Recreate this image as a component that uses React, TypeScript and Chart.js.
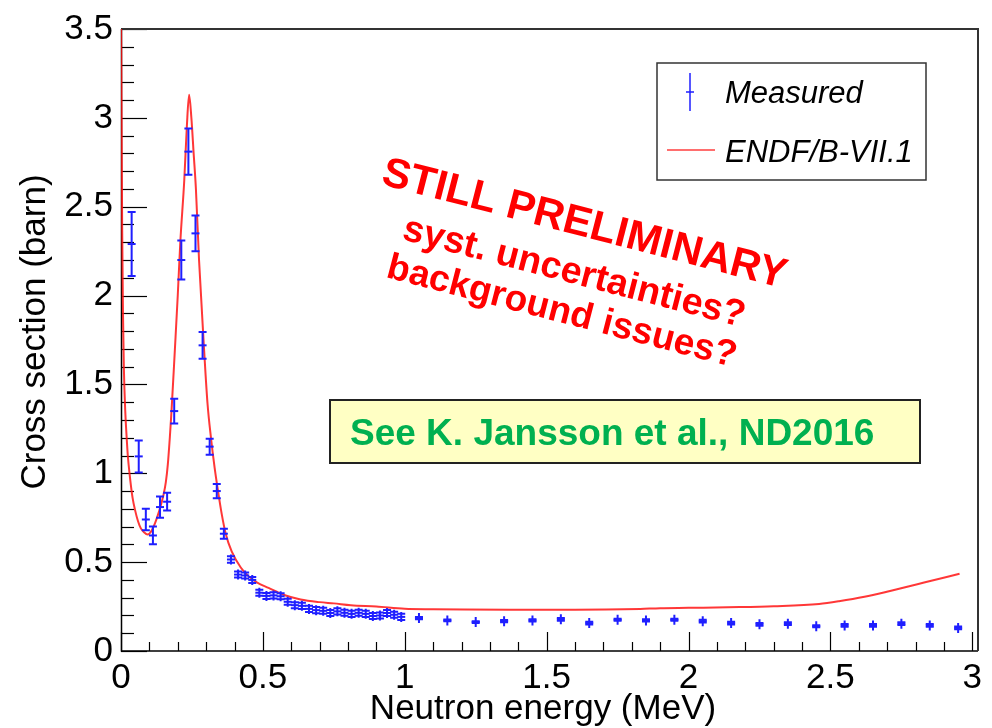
import React, { useEffect, useRef } from 'react';
import { Chart, registerables } from 'chart.js';

Chart.register(...registerables);

// ---------- data ----------
const measEnergy = [
  0.0375, 0.0625, 0.0875, 0.1125, 0.1375, 0.1625, 0.1875, 0.2125, 0.2375, 0.2625,
  0.2875, 0.3125, 0.3375, 0.3625, 0.3875, 0.4125, 0.4375, 0.4625, 0.4875, 0.5125,
  0.5375, 0.5625, 0.5875, 0.6125, 0.6375, 0.6625, 0.6875, 0.7125, 0.7375, 0.7625,
  0.7875, 0.8125, 0.8375, 0.8625, 0.8875, 0.9125, 0.9375, 0.9625, 0.9875,
  1.05, 1.15, 1.25, 1.35, 1.45, 1.55, 1.65, 1.75, 1.85, 1.95,
  2.05, 2.15, 2.25, 2.35, 2.45, 2.55, 2.65, 2.75, 2.85, 2.95,
];
const measValue = [
  2.29, 1.095, 0.74, 0.65, 0.81, 0.84, 1.35, 2.2, 2.81, 2.35,
  1.72, 1.15, 0.9, 0.66, 0.515, 0.43, 0.425, 0.4, 0.328, 0.31,
  0.313, 0.308, 0.277, 0.258, 0.254, 0.237, 0.23, 0.226, 0.214, 0.223,
  0.215, 0.209, 0.215, 0.209, 0.197, 0.2, 0.214, 0.204, 0.192,
  0.185, 0.172, 0.163, 0.168, 0.172, 0.178, 0.157, 0.176, 0.172, 0.176,
  0.168, 0.157, 0.15, 0.154, 0.139, 0.144, 0.144, 0.154, 0.144, 0.13,
];
const measError = [
  0.18, 0.09, 0.06, 0.05, 0.06, 0.05, 0.07, 0.11, 0.13, 0.1,
  0.075, 0.045, 0.04, 0.028, 0.018, 0.017, 0.017, 0.017, 0.017, 0.017,
  0.017, 0.017, 0.017, 0.017, 0.017, 0.017, 0.017, 0.017, 0.017, 0.017,
  0.017, 0.017, 0.017, 0.017, 0.017, 0.017, 0.017, 0.017, 0.017,
  0.006, 0.005, 0.005, 0.006, 0.006, 0.008, 0.008, 0.006, 0.006, 0.006,
  0.008, 0.008, 0.008, 0.008, 0.006, 0.008, 0.008, 0.008, 0.008, 0.008,
];

const endfEnergy = [
  0, 0.002, 0.004, 0.007, 0.01, 0.015, 0.02, 0.024, 0.03, 0.041,
  0.05, 0.06, 0.07, 0.08, 0.094, 0.105, 0.12, 0.135, 0.15, 0.158,
  0.165, 0.172, 0.178, 0.19, 0.2, 0.209, 0.223, 0.232, 0.24, 0.248,
  0.256, 0.264, 0.275, 0.293, 0.305, 0.317, 0.33, 0.34, 0.355, 0.369,
  0.39, 0.422, 0.45, 0.48, 0.52, 0.575, 0.633, 0.7, 0.75, 0.81,
  0.9, 1.0, 1.1, 1.21, 1.4, 1.6, 1.71, 1.83, 1.9, 2.0,
  2.18, 2.3, 2.46, 2.53, 2.62, 2.71, 2.83, 2.955,
];
const endfValue = [
  3.6, 3.0, 2.4, 1.9, 1.6, 1.35, 1.2, 1.1, 1.0, 0.86,
  0.79, 0.73, 0.69, 0.67, 0.655, 0.67, 0.72, 0.79, 0.88, 0.95,
  1.05, 1.2, 1.35, 1.7, 2.0, 2.3, 2.65, 2.95, 3.13, 3.0,
  2.8, 2.6, 2.2, 1.69, 1.39, 1.2, 1.03, 0.92, 0.77, 0.66,
  0.56, 0.47, 0.42, 0.385, 0.355, 0.315, 0.29, 0.275, 0.268, 0.258,
  0.25, 0.238, 0.235, 0.233, 0.232, 0.232, 0.233, 0.237, 0.241, 0.243,
  0.247, 0.252, 0.265, 0.28, 0.305, 0.338, 0.385, 0.435,
];

const xTickValues = [0, 0.5, 1, 1.5, 2, 2.5, 3];
const yTickValues = [0, 0.5, 1, 1.5, 2, 2.5, 3, 3.5];
const xMinorStep = 0.1;
const yMinorStep = 0.1;

const seriesNames = ['Measured', 'ENDF/B-VII.1'];
const xTitle = 'Neutron energy (MeV)';
const yTitle = 'Cross section (barn)';
const stampLines = ['STILL PRELIMINARY', 'syst. uncertainties?', 'background issues?'];
const noteText = 'See K. Jansson et al., ND2016';

// ---------- style ----------
const FONT = '"Liberation Sans", Arial, Helvetica, sans-serif';
const BLUE = '#1f1fff';
const RED = 'rgba(255,20,20,0.85)';

const rootPlugin = {
  id: 'rootStyle',
  beforeDatasetsDraw(chart: any) {
    const { ctx, chartArea: a, scales } = chart;
    const xs = scales.x;
    const ys = scales.y;
    ctx.save();
    ctx.strokeStyle = '#000';
    ctx.lineWidth = 1.2;
    for (let v = 0; v <= 3.5 + 1e-9; v += yMinorStep) {
      const vv = Math.round(v * 10) / 10;
      const major = Math.abs(vv * 2 - Math.round(vv * 2)) < 1e-6;
      const y = Math.round(ys.getPixelForValue(vv)) + 0.5;
      ctx.beginPath();
      ctx.moveTo(a.left, y);
      ctx.lineTo(a.left + (major ? 26 : 13), y);
      ctx.stroke();
    }
    for (let v = 0; v <= 3 + 1e-9; v += xMinorStep) {
      const vv = Math.round(v * 10) / 10;
      const major = Math.abs(vv * 2 - Math.round(vv * 2)) < 1e-6;
      const x = Math.round(xs.getPixelForValue(vv)) + 0.5;
      ctx.beginPath();
      ctx.moveTo(x, a.bottom);
      ctx.lineTo(x, a.bottom - (major ? 19 : 9));
      ctx.stroke();
    }
    ctx.lineWidth = 1.5;
    ctx.beginPath();
    ctx.moveTo(a.left + 0.5, a.top);
    ctx.lineTo(a.left + 0.5, a.bottom);
    ctx.lineTo(a.right, a.bottom);
    ctx.stroke();
    ctx.strokeStyle = '#333';
    ctx.lineWidth = 2;
    ctx.beginPath();
    ctx.moveTo(a.left, a.top);
    ctx.lineTo(a.right, a.top);
    ctx.lineTo(a.right, a.bottom);
    ctx.stroke();
    ctx.restore();
  },
  afterDatasetsDraw(chart: any) {
    const { ctx, chartArea: a, scales } = chart;
    const xs = scales.x;
    const ys = scales.y;
    ctx.save();
    ctx.beginPath();
    ctx.rect(a.left, a.top, a.right - a.left, a.bottom - a.top);
    ctx.clip();
    ctx.strokeStyle = BLUE;
    ctx.lineWidth = 2;
    for (let i = 0; i < measEnergy.length; i++) {
      const x = xs.getPixelForValue(measEnergy[i]);
      const yc = ys.getPixelForValue(measValue[i]);
      const y1 = ys.getPixelForValue(measValue[i] + measError[i]);
      const y2 = ys.getPixelForValue(measValue[i] - measError[i]);
      ctx.beginPath();
      ctx.moveTo(x, Math.min(y1, yc - 5));
      ctx.lineTo(x, Math.max(y2, yc + 5));
      ctx.moveTo(x - 4, y1);
      ctx.lineTo(x + 4, y1);
      ctx.moveTo(x - 4, y2);
      ctx.lineTo(x + 4, y2);
      ctx.stroke();
    }
    ctx.restore();
  },
  afterDraw(chart: any) {
    const { ctx } = chart;
    ctx.save();
    ctx.fillStyle = '#000';
    ctx.font = `35px ${FONT}`;
    ctx.textAlign = 'center';
    ctx.textBaseline = 'alphabetic';
    ctx.fillText(xTitle, 543, 719);
    ctx.save();
    ctx.translate(45, 332);
    ctx.rotate(-Math.PI / 2);
    ctx.fillText(yTitle, 0, 0);
    ctx.restore();

    // legend
    ctx.fillStyle = '#fff';
    ctx.fillRect(657, 63, 269, 117);
    ctx.strokeStyle = '#333';
    ctx.lineWidth = 1.5;
    ctx.strokeRect(657, 63, 269, 117);
    ctx.strokeStyle = BLUE;
    ctx.lineWidth = 1.5;
    ctx.beginPath();
    ctx.moveTo(690, 73);
    ctx.lineTo(690, 111);
    ctx.moveTo(686, 92);
    ctx.lineTo(694, 92);
    ctx.stroke();
    ctx.strokeStyle = 'rgba(255,40,40,0.9)';
    ctx.beginPath();
    ctx.moveTo(667, 150);
    ctx.lineTo(715, 150);
    ctx.stroke();
    ctx.fillStyle = '#000';
    ctx.font = `italic 31px ${FONT}`;
    ctx.textAlign = 'left';
    ctx.fillText(seriesNames[0], 725, 103);
    ctx.fillText(seriesNames[1], 725, 162);

    // stamp
    ctx.fillStyle = '#ff0000';
    const ang = (14.5 * Math.PI) / 180;
    const stampPos = [
      [380, 184, 42],
      [401, 239, 37.5],
      [385, 277, 37],
    ];
    stampLines.forEach((t, i) => {
      const [sx, sy, fs] = stampPos[i];
      ctx.save();
      ctx.translate(sx, sy);
      ctx.rotate(ang);
      ctx.font = `bold ${fs}px ${FONT}`;
      ctx.fillText(t, 0, 0);
      ctx.restore();
    });

    // note box
    ctx.fillStyle = '#ffffc4';
    ctx.fillRect(330, 400, 590, 63);
    ctx.strokeStyle = '#222';
    ctx.lineWidth = 2;
    ctx.strokeRect(330, 400, 590, 63);
    ctx.fillStyle = '#00b050';
    ctx.font = `bold 37px ${FONT}`;
    ctx.fillText(noteText, 350, 445);
    ctx.restore();
  },
};

export default function App() {
  const ref = useRef<HTMLCanvasElement | null>(null);
  useEffect(() => {
    if (!ref.current) return;
    const chart = new Chart(ref.current, {
      type: 'scatter',
      data: {
        datasets: [
          {
            type: 'scatter',
            label: seriesNames[0],
            data: measEnergy.map((e, i) => ({ x: e, y: measValue[i] })),
            pointStyle: 'line',
            pointRadius: 4,
            borderColor: BLUE,
            backgroundColor: BLUE,
            borderWidth: 2,
            order: 0,
          },
          {
            type: 'line',
            label: seriesNames[1],
            data: endfEnergy.map((e, i) => ({ x: e, y: endfValue[i] })),
            borderColor: RED,
            borderWidth: 2,
            pointRadius: 0,
            fill: false,
            cubicInterpolationMode: 'monotone',
            order: 1,
          },
        ],
      } as any,
      options: {
        responsive: false,
        animation: false,
        devicePixelRatio: 1,
        layout: { padding: { left: 0, top: 23, right: 14, bottom: 0 } },
        plugins: { legend: { display: false }, tooltip: { enabled: false } },
        scales: {
          x: {
            type: 'linear',
            min: 0,
            max: 3.02,
            grid: { display: false, drawTicks: false },
            border: { display: false },
            ticks: {
              font: { size: 35, family: FONT },
              color: '#000',
              padding: 6,
              maxRotation: 0,
              autoSkip: false,
              callback: (v: any) => String(v),
            },
            afterBuildTicks: (s: any) => {
              s.ticks = xTickValues.map((v) => ({ value: v }));
            },
            afterFit: (s: any) => {
              s.height = 77;
            },
          },
          y: {
            type: 'linear',
            min: 0,
            max: 3.5,
            grid: { display: false, drawTicks: false },
            border: { display: false },
            ticks: {
              font: { size: 35, family: FONT },
              color: '#000',
              padding: 8,
              autoSkip: false,
              callback: (v: any) => String(v),
            },
            afterBuildTicks: (s: any) => {
              s.ticks = yTickValues.map((v) => ({ value: v }));
            },
            afterFit: (s: any) => {
              s.width = 121;
            },
          },
        },
      } as any,
      plugins: [rootPlugin],
    });
    return () => chart.destroy();
  }, []);
  return (
    <div style={{ position: 'absolute', left: 0, top: 0, width: 992, height: 728, background: '#fff' }}>
      <canvas ref={ref} width={992} height={728} style={{ display: 'block' }} />
    </div>
  );
}
